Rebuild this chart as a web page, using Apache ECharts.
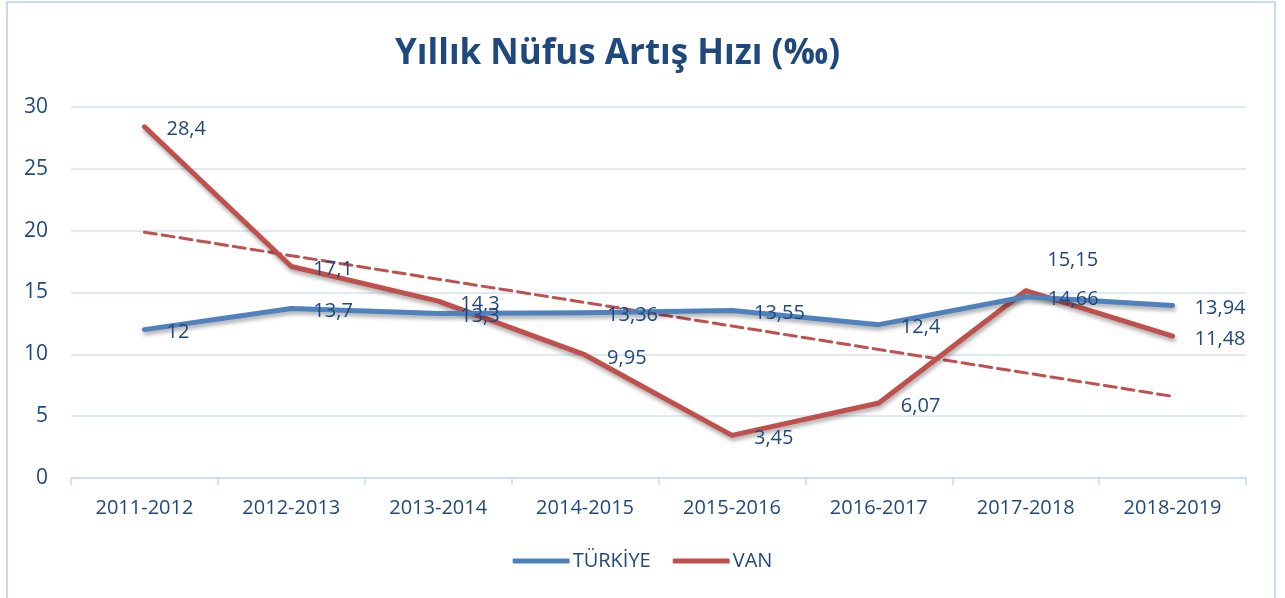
<!DOCTYPE html>
<html>
<head>
<meta charset="utf-8">
<script src="https://cdn.jsdelivr.net/npm/echarts@6/dist/echarts.min.js"></script>
<style>
  html, body { margin: 0; padding: 0; background: #fff; }
  #chart { width: 1285px; height: 598px; }
</style>
</head>
<body>
<div id="chart"></div>
<script>
// Yıllık nüfus artış hızı
var years = ['2011-2012', '2012-2013', '2013-2014', '2014-2015', '2015-2016', '2016-2017', '2017-2018', '2018-2019'];
var turkiye = [12, 13.7, 13.3, 13.36, 13.55, 12.4, 14.66, 13.94];
var van = [28.4, 17.1, 14.3, 9.95, 3.45, 6.07, 15.15, 11.48];
// doğrusal eğilim çizgisi
var vanTrend = [19.88, 17.98, 16.08, 14.19, 12.29, 10.39, 8.50, 6.60];
var yTicks = [0, 5, 10, 15, 20, 25, 30];

var textColor = '#1f497d';
var font = '"Open Sans", "Noto Sans", sans-serif';

var chart = echarts.init(document.getElementById('chart'));

function fmt(v) {
    return String(v).replace('.', ',');
}

function lineLabel() {
    return {
        show: true,
        position: 'right',
        distance: 22,
        offset: [0, 3],
        color: textColor,
        fontFamily: font,
        fontSize: 20,
        formatter: function (p) { return fmt(p.value); }
    };
}

var lineShadow = {
    shadowColor: 'rgba(0,0,0,0.35)', shadowBlur: 4, shadowOffsetX: 1, shadowOffsetY: 3
};

// Van 2017-2018 etiketi çizginin üstünde
var vanData = van.map(function (v, i) {
    if (i === 6) {
        return { value: v, label: { position: 'top', offset: [47, 2] } };
    }
    return v;
});

var option = {
    animation: false,
    graphic: [{
        type: 'rect',
        shape: { x: 7, y: 2, width: 1268, height: 610 },
        style: { fill: 'none', stroke: '#c9d9ee', lineWidth: 2 },
        silent: true
    }],
    title: {
        text: 'Yıllık Nüfus Artış Hızı (‰)',
        left: 390,
        top: 32,
        textStyle: {
            color: textColor,
            fontFamily: font,
            fontWeight: 'bold',
            fontSize: 35
        }
    },
    legend: {
        bottom: 22,
        left: 'center',
        itemWidth: 57,
        itemHeight: 5,
        itemGap: 22,
        icon: 'roundRect',
        data: ['TÜRKİYE', 'VAN'],
        textStyle: { color: textColor, fontFamily: font, fontSize: 20, padding: [0, 0, 0, -2] }
    },
    grid: {
        left: 71,
        right: 39,
        top: 107,
        bottom: 120
    },
    xAxis: {
        type: 'category',
        data: years,
        boundaryGap: true,
        axisLine: { lineStyle: { color: '#c9d9ee', width: 1.5 } },
        axisTick: { show: true, length: 7, lineStyle: { color: '#c9d9ee', width: 1.5 } },
        axisLabel: { color: textColor, fontFamily: font, fontSize: 20, margin: 20 }
    },
    yAxis: {
        type: 'value',
        min: yTicks[0],
        max: yTicks[yTicks.length - 1],
        interval: 5,
        axisLine: { show: false },
        axisTick: { show: false },
        splitLine: { lineStyle: { color: '#d6e3f3', width: 1.5 } },
        axisLabel: { color: textColor, fontFamily: font, fontSize: 21, margin: 23 }
    },
    series: [{
        name: 'VAN eğilim',
        type: 'line',
        data: vanTrend,
        symbol: 'none',
        silent: true,
        z: 1,
        lineStyle: { color: '#c0504d', width: 3, type: [12, 6], cap: 'round' }
    }, {
        name: 'TÜRKİYE',
        type: 'line',
        data: turkiye,
        symbol: 'circle',
        symbolSize: 0.1,
        showSymbol: true,
        z: 3,
        itemStyle: { color: '#4f81bd' },
        lineStyle: Object.assign({ color: '#4f81bd', width: 5, cap: 'round', join: 'round' }, lineShadow),
        label: lineLabel()
    }, {
        name: 'VAN',
        type: 'line',
        data: vanData,
        symbol: 'circle',
        symbolSize: 0.1,
        showSymbol: true,
        z: 2,
        itemStyle: { color: '#c0504d' },
        lineStyle: Object.assign({ color: '#c0504d', width: 5, cap: 'round', join: 'round' }, lineShadow),
        label: lineLabel()
    }]
};

chart.setOption(option);
</script>
</body>
</html>
